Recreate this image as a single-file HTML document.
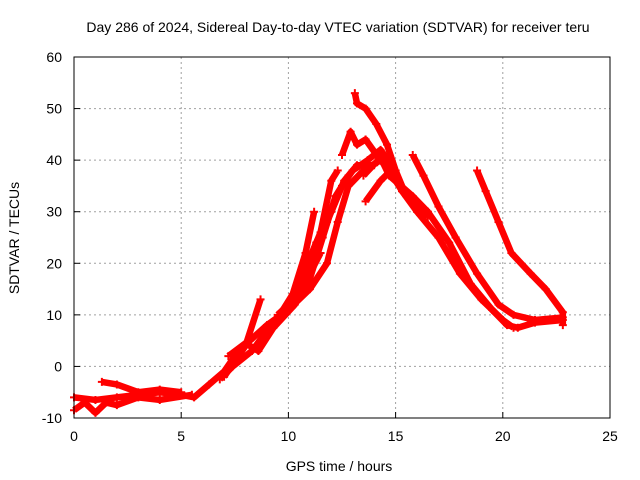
<!DOCTYPE html>
<html><head><meta charset="utf-8">
<style>
body{margin:0;background:#fff;}
svg{display:block;font-family:"Liberation Sans",sans-serif;font-size:14px;}
</style></head>
<body>
<svg id="chart" width="640" height="480" viewBox="0 0 640 480">
<rect width="640" height="480" fill="#fff"/>
<text x="338" y="32" text-anchor="middle">Day 286 of 2024, Sidereal Day-to-day VTEC variation (SDTVAR) for receiver teru</text>
<g id="grid"></g>
<g id="axes"></g>
<g id="series"></g>
<rect x="74" y="57" width="536" height="361" fill="none" stroke="#000" stroke-width="1"/>
<text x="339" y="471" text-anchor="middle">GPS time / hours</text>
<text transform="translate(19,238) rotate(-90)" text-anchor="middle">SDTVAR / TECUs</text>
</svg>
<script>
const xTicks=[0,5,10,15,20,25];
const yTicks=[-10,0,10,20,30,40,50,60];
const traceMain=[[0,-6],[1,-6.5],[2,-6],[3,-5.5],[4,-5],[5,-5.5],[5.6,-6],[6.3,-3.5],[7,-1],[7.5,2],[8.2,5],[9,8],[10,11],[11,15],[11.8,20],[12.3,28],[12.8,35],[13.5,38],[14.3,40],[14.7,38],[15.3,34],[16.5,30],[17.5,24],[18.5,16],[19.5,11],[20.2,8],[20.7,7.5],[21.5,8.5],[22.8,9]];
const traceB=[[9.5,10],[10.5,14],[11.2,20],[11.8,28],[12.5,35],[13,38],[13.7,40],[14.3,42],[14.8,39],[15.3,34],[16,30],[17,25],[18,18],[19,13],[20,9],[20.5,7.5]];
const traceC=[[13.1,53],[13.2,51],[13.6,50],[14.1,47],[14.6,43],[15,38],[15.5,33],[16.5,29]];
const traceD=[[12.5,41],[12.9,45.5],[13.2,43],[13.6,44],[14.2,40.5],[14.8,39.5]];
const traceE=[[13.5,37],[14.3,40.5],[14.7,37],[15.8,33],[16.5,30]];
const traceF=[[13.6,32],[14.3,36],[14.9,38.5]];
const traceG=[[15.8,41],[16.3,37],[17,31],[17.8,25],[18.8,18],[19.8,12],[20.5,10],[21.5,9],[22.8,9.5]];
const traceH=[[18.8,38],[19.2,34],[19.8,28],[20.4,22],[21.3,18],[22,15],[22.8,10.5],[22.8,8]];
const traceI=[[7,-2],[7.5,1],[8,4],[8.7,13]];
const traceJ=[[9.3,8],[10.2,14],[10.8,22],[11.2,30]];
const traceK=[[9.5,9],[10.4,15],[11.5,26],[12,36],[12.3,38]];
const traceL=[[0,-8.5],[0.5,-7],[1,-9],[1.5,-7],[2,-7.5],[3,-6],[4,-6.5],[5.5,-5.5]];
const traceM=[[1.3,-3],[2,-3.5],[3,-5],[4,-4.5],[5,-5]];
const traceN=[[7.2,2],[8,4.5],[8.6,3],[9.3,7.5],[10.3,12],[11,17],[11.6,25],[12.2,33],[12.8,37]];
const traceO=[[10,12],[10.7,18],[11.3,24],[12,30],[12.6,36],[13.2,39],[14,39]];
const traceP=[[6.8,-2.5],[7.4,0],[8.3,3],[9.2,8],[10.1,12.5],[11,18],[11.5,22]];
const traces=[traceMain,traceB,traceC,traceD,traceE,traceF,traceG,traceH,traceI,traceJ,traceK,traceL,traceM,traceN,traceO,traceP];

const X0=74,X1=610,Y0=418,Y1=57;
const xScale=v=>X0+(v-0)/25*(X1-X0);
const yScale=v=>Y0-(v+10)/70*(Y0-Y1);
const NS="http://www.w3.org/2000/svg";
const grid=document.getElementById('grid'),axes=document.getElementById('axes'),series=document.getElementById('series');
function mk(tag,attrs,parent){const e=document.createElementNS(NS,tag);for(const k in attrs)e.setAttribute(k,attrs[k]);parent.appendChild(e);return e;}
xTicks.forEach(t=>{const x=xScale(t);
 if(t>0&&t<25){const g=mk('line',{x1:x,x2:x,y1:Y1,y2:Y0,stroke:'#a0a0a0','stroke-dasharray':'2,3'},grid);
 
 }
 const tk=mk('line',{x1:x,x2:x,y1:Y0,y2:Y0-6,stroke:'#000'},axes);
 
 
 const l=mk('text',{x:x,y:Y0+23,'text-anchor':'middle'},axes);l.textContent=t;
 
 
});
yTicks.forEach(t=>{const y=yScale(t);
 if(t>-10&&t<60){const g=mk('line',{x1:X0,x2:X1,y1:y,y2:y,stroke:'#a0a0a0','stroke-dasharray':'2,3'},grid);
 
 }
 const tk=mk('line',{x1:X0,x2:X0+6,y1:y,y2:y,stroke:'#000'},axes);
 
 
 const l=mk('text',{x:X0-12,y:y+5,'text-anchor':'end'},axes);l.textContent=t;
 
 
});
traces.forEach((tr,i)=>{
 const p=mk('polyline',{points:tr.map(d=>xScale(d[0])+','+yScale(d[1])).join(' '),fill:'none',stroke:'#f00','stroke-width':6.5,'stroke-linejoin':'round'},series);
 
 
 tr.forEach(d=>{const x=xScale(d[0]),y=yScale(d[1]);
  const m=mk('path',{d:`M${x-4},${y}H${x+4}M${x},${y-4}V${y+4}`,stroke:'#f00','stroke-width':2},series);
  
  
 });
});
</script>
</body></html>
